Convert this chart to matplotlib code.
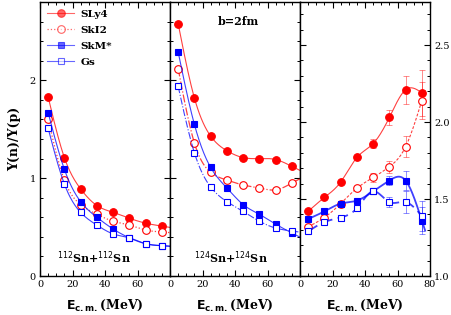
import numpy as np
import matplotlib
matplotlib.use('Agg')
import matplotlib.pyplot as plt
from matplotlib.ticker import MultipleLocator, FixedLocator

# beam energies (MeV)
energy = [5, 15, 25, 35, 45, 55, 65, 75]

# 112Sn+112Sn
p1_sly4 = [1.83, 1.21, 0.89, 0.72, 0.65, 0.59, 0.54, 0.51]
p1_ski2 = [1.60, 0.98, 0.73, 0.63, 0.56, 0.52, 0.47, 0.45]
p1_skm = [1.67, 1.09, 0.76, 0.60, 0.48, 0.39, 0.33, 0.31]
p1_gs = [1.51, 0.94, 0.65, 0.52, 0.43, 0.39, 0.33, 0.31]

# 124Sn+124Sn
p2_sly4 = [2.58, 1.82, 1.43, 1.28, 1.21, 1.20, 1.19, 1.12]
p2_ski2 = [2.12, 1.36, 1.06, 0.98, 0.93, 0.90, 0.88, 0.95]
p2_skm = [2.29, 1.55, 1.11, 0.90, 0.73, 0.63, 0.53, 0.44]
p2_gs = [1.94, 1.26, 0.91, 0.76, 0.66, 0.56, 0.49, 0.46]

# ratio 124/112 (right panel)
p3_sly4 = [1.42, 1.51, 1.61, 1.77, 1.86, 2.03, 2.21, 2.19]
p3_ski2 = [1.32, 1.38, 1.47, 1.57, 1.64, 1.71, 1.84, 2.14]
p3_skm = [1.37, 1.42, 1.47, 1.49, 1.55, 1.62, 1.62, 1.36]
p3_gs = [1.29, 1.35, 1.38, 1.44, 1.55, 1.48, 1.48, 1.39]
p3_sly4_err = [0.0, 0.0, 0.0, 0.0, 0.03, 0.05, 0.09, 0.15]
p3_ski2_err = [0.0, 0.0, 0.0, 0.0, 0.03, 0.04, 0.07, 0.12]
p3_skm_err = [0.0, 0.0, 0.0, 0.0, 0.0, 0.03, 0.06, 0.09]
p3_gs_err = [0.0, 0.0, 0.0, 0.0, 0.0, 0.03, 0.07, 0.10]

RED = '#ff0000'
BLUE = '#0000ff'
plt.rcParams['font.family'] = 'DejaVu Serif'


def spline(x, y, xs):
    # natural cubic spline through the points, equal spacing
    x = np.asarray(x, float)
    y = np.asarray(y, float)
    n = len(x)
    h = x[1] - x[0]
    A = np.zeros((n, n))
    b = np.zeros(n)
    A[0, 0] = A[-1, -1] = 1
    for i in range(1, n - 1):
        A[i, i - 1], A[i, i], A[i, i + 1] = 1, 4, 1
        b[i] = 6 * (y[i + 1] - 2 * y[i] + y[i - 1]) / h ** 2
    M = np.linalg.solve(A, b)
    k = np.clip(((xs - x[0]) // h).astype(int), 0, n - 2)
    a = x[k + 1] - xs
    bb = xs - x[k]
    return (M[k] * a ** 3 / (6 * h) + M[k + 1] * bb ** 3 / (6 * h)
            + (y[k] / h - M[k] * h / 6) * a + (y[k + 1] / h - M[k + 1] * h / 6) * bb)


fig, axes = plt.subplots(1, 3, figsize=(4.51, 3.15), dpi=100)
fig.subplots_adjust(left=40 / 451, right=430 / 451, bottom=39 / 315, top=313 / 315, wspace=0)

styles = [
    ('SLy4', RED, 'o', True, '-', 0.8),
    ('SkI2', RED, 'o', False, ':', 0.9),
    ('SkM*', BLUE, 's', True, '-', 0.8),
    ('Gs', BLUE, 's', False, '-', 0.8),
]

panels = [
    [p1_sly4, p1_ski2, p1_skm, p1_gs],
    [p2_sly4, p2_ski2, p2_skm, p2_gs],
    [p3_sly4, p3_ski2, p3_skm, p3_gs],
]
errs = [p3_sly4_err, p3_ski2_err, p3_skm_err, p3_gs_err]
ls_p2 = ['-', '-.', '-', '-.']
ls_p3 = ['-', (0, (2.5, 1.5)), '-', (0, (6, 3))]
lw_p3 = [0.8, 0.8, 1.3, 1.3]

for j, ax in enumerate(axes):
    xs = np.linspace(5, 80 if j < 2 else 77, 200)
    for i, (name, col, mk, filled, ls, lw) in enumerate(styles):
        vals = panels[j][i]
        if j == 1:
            ls = ls_p2[i]
        if j == 2:
            ls = ls_p3[i]
            lw = lw_p3[i]
        ax.plot(xs, spline(energy, vals, xs), color=col, ls=ls, lw=lw, alpha=0.75)
        if j == 2:
            ax.errorbar(energy, vals, yerr=errs[i], fmt='none', ecolor=col,
                        elinewidth=0.7, capsize=2.5, capthick=0.7, alpha=0.45)
        ax.plot(energy, vals, ls='none', marker=mk, ms=5.5 if mk == 'o' else 5,
                mfc=col if filled else 'white', mec=col, mew=0.8)
        if j == 0:
            ax.plot([], [], color=col, ls=ls, lw=lw, alpha=0.6, marker=mk, ms=5.5 if mk == 'o' else 5,
                    mfc=col if filled else 'white', mec=col, mew=0.8, label=name)

    ax.set_xlim(0, 80)
    ax.xaxis.set_minor_locator(MultipleLocator(5))
    if j < 2:
        ax.set_ylim(0, 2.8)
        ax.yaxis.set_major_locator(FixedLocator([0, 1, 2]))
        ax.yaxis.set_minor_locator(MultipleLocator(0.2))
        ax.xaxis.set_major_locator(FixedLocator([0, 20, 40, 60]))
    else:
        ax.set_ylim(1.0, 2.78)
        ax.yaxis.set_major_locator(MultipleLocator(0.5))
        ax.yaxis.set_minor_locator(MultipleLocator(0.1))
        ax.xaxis.set_major_locator(MultipleLocator(20))
        ax.yaxis.set_major_formatter(matplotlib.ticker.FormatStrFormatter('%.1f'))
    ax.tick_params(which='both', direction='in', top=True, right=True, labelsize=7, pad=3)
    ax.tick_params(which='major', length=4, width=0.8)
    ax.tick_params(which='minor', length=2.5, width=0.7)
    if j == 1:
        ax.tick_params(labelleft=False)
    if j == 2:
        ax.tick_params(labelleft=False, labelright=True)
    for s in ax.spines.values():
        s.set_linewidth(1.0)
    ax.set_xlabel(r'$\mathbf{E_{c.m.}}$(MeV)', fontsize=9, fontweight='bold', labelpad=6)

axes[0].set_ylabel('Y(n)/Y(p)', fontsize=9, fontweight='bold', labelpad=6)
leg = axes[0].legend(loc='upper left', frameon=False, fontsize=7.5, handlelength=2.6,
                     borderaxespad=0.3, labelspacing=0.65, handletextpad=0.6)
for t in leg.get_texts():
    t.set_fontweight('bold')

axes[0].text(33, 0.14, r'$^{112}$Sn+$^{112}$Sn', ha='center', fontsize=8, fontweight='bold')
axes[1].text(37.5, 0.14, r'$^{124}$Sn+$^{124}$Sn', ha='center', fontsize=8, fontweight='bold')
axes[1].text(42, 2.57, 'b=2fm', ha='center', fontsize=8, fontweight='bold')

plt.savefig('out.png', dpi=100)
